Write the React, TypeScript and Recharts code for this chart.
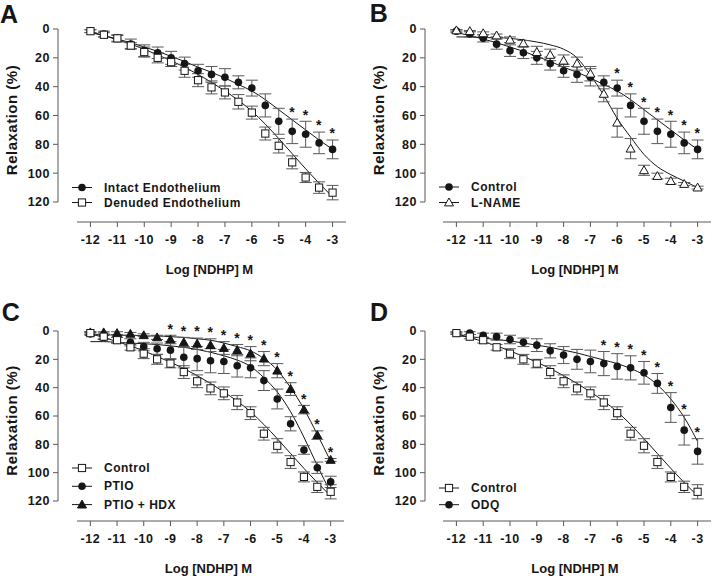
import React from 'react';
import { ComposedChart, Line, Scatter, ErrorBar, XAxis, YAxis, Customized } from 'recharts';

// concentrations (log M) of NDHP
const logConc = [-12, -11.5, -11, -10.5, -10, -9.5, -9, -8.5, -8, -7.5, -7, -6.5, -6, -5.5, -5, -4.5, -4, -3.5, -3];
const xTicks = [-12, -11, -10, -9, -8, -7, -6, -5, -4, -3];
const yTicks = [0, 20, 40, 60, 80, 100, 120];

// intact endothelium / control (A, B)
const intactMean = [1.5, 3.5, 6.5, 10.5, 15, 16.5, 20, 24, 29, 31.5, 33.5, 37, 41, 53, 64, 71, 73, 79, 83.5];
const intactSem = [1, 2, 2.5, 3.5, 4, 4, 4.5, 4.5, 4.5, 5.5, 6, 4.5, 5.5, 8, 9, 8.5, 9, 7.5, 6.5];
const intactFit = [2.5, 4.5, 7, 9.5, 12.5, 15.5, 19, 22.5, 26.5, 30, 34, 38.5, 43, 49, 56, 63, 70, 77, 83.5];

// denuded endothelium / control (A, C, D)
const denudedMean = [1.5, 4, 6.5, 11.5, 16, 20, 23, 29, 35.5, 40.5, 44, 50.5, 58, 72.5, 81, 92.5, 103, 110, 113.5];
const denudedSem = [1, 1.5, 2, 2, 3.5, 3.5, 3, 4.5, 4.5, 4.5, 4.5, 5, 4.5, 4.5, 5, 4.5, 3.5, 4, 5];
const denudedFit = [2, 4.5, 7.5, 10.5, 14, 18, 22, 26.5, 31.5, 37, 43, 49.5, 57, 66, 76, 86.5, 97, 107, 116.5];

// L-NAME (B)
const lnameMean = [1, 1.5, 3, 4.5, 7.5, 10, 16, 18, 22, 24, 31, 45, 65, 83, 98, 102, 105.5, 107.5, 110];
const lnameSem = [0.5, 0.5, 1, 1, 2, 2, 4, 4, 4, 4.5, 5, 5.5, 10, 7, 3.5, 2, 2, 1, 1];
const lnameFit = [5.5, 5.5, 6, 6, 6.5, 7.5, 9, 11, 14, 20, 32, 46, 62, 75, 87, 95.5, 101, 105.5, 110];

// PTIO (C)
const ptioMean = [2, 4.5, 6.5, 8, 11, 12.5, 13.5, 18.5, 19.5, 21, 21.5, 24.5, 26, 35, 48, 65.5, 84, 96.5, 106.5];
const ptioSem = [1, 1.5, 2, 2.5, 3, 4, 6, 7.5, 8.5, 8.5, 8.5, 8, 7, 7, 7, 5, 3, 4, 4];
const ptioFit = [7.5, 7.5, 8, 8.5, 9, 9.5, 10.5, 11.5, 13, 15, 17.5, 20.5, 25, 33, 43, 57, 75, 95, 114];

// PTIO + HDX (C)
const hdxMean = [1, 1, 1.5, 2, 3, 4.5, 6, 8, 9, 10, 12, 13.5, 16, 19.5, 28, 41, 55.5, 73.5, 91];
const hdxSem = [0.5, 0.5, 1, 1, 1, 1.5, 3, 3.5, 4, 4.5, 4.5, 4, 5, 5, 5, 4.5, 3, 3, 1];
const hdxFit = [2.5, 2.5, 3, 3, 3.5, 3.5, 4, 4.5, 5.5, 6.5, 8.5, 11, 14, 19.5, 27.5, 40, 55, 73, 92];

// ODQ (D)
const odqMean = [1.5, 1.5, 3, 4, 6, 8, 10, 14, 17, 20, 21.5, 23, 25, 26, 29.5, 37, 54, 70, 85];
const odqSem = [0.5, 1, 1.5, 2.5, 3, 3, 4.5, 5, 6, 7, 8, 8.5, 9, 8.5, 8, 7, 10.5, 10.5, 9];
const odqFit = [3.5, 4, 5, 6, 7, 8.5, 10, 11.5, 13.5, 15.5, 18, 20.5, 23, 26.5, 31, 38, 48, 61, 78];

// significance marks (* p<0.05)
const starsA = [-4.5, -4, -3.5, -3];
const starsB = [-6, -5.5, -5, -4.5, -4, -3.5, -3];
const starsC = [-9, -8.5, -8, -7.5, -7, -6.5, -6, -5.5, -5, -4.5, -4, -3.5, -3];
const starsD = [-6.5, -6, -5.5, -5, -4.5, -4, -3.5, -3];

const FONT = '"Liberation Sans", Arial, Helvetica, sans-serif';
const INK = '#161616';
const GREY = '#595959';
const W = 357;
const H = 288;
const Y_AXIS_W = 50;
const X_AXIS_H = 40;
const PAD_BOTTOM = 20;

type Marker = 'circle' | 'square' | 'triangle' | 'openTriangle';

interface Series {
  name: string;
  marker: Marker;
  mean: number[];
  sem: number[];
  fit: number[];
}

interface Panel {
  letter: string;
  letterX: number;
  letterY: number;
  left: number;
  top: number;
  margin: { top: number; right: number; left: number; bottom: number };
  padLeft: number;
  series: Series[]; // drawing order
  legendOrder: number[];
  legendY: number;
  legendGap: number;
  stars: number[];
  starOn: number;
}

const intact = (name: string): Series => ({ name, marker: 'circle', mean: intactMean, sem: intactSem, fit: intactFit });
const denuded = (name: string): Series => ({ name, marker: 'square', mean: denudedMean, sem: denudedSem, fit: denudedFit });

const panels: Panel[] = [
  {
    letter: 'A', letterX: 0, letterY: 23, left: 0, top: 0,
    margin: { top: 29, right: 11, left: 8, bottom: 26 }, padLeft: 19,
    series: [intact('Intact Endothelium'), denuded('Denuded Endothelium')],
    legendOrder: [0, 1], legendY: 187.5, legendGap: 15,
    stars: starsA, starOn: 0,
  },
  {
    letter: 'B', letterX: 12.7, letterY: 22, left: W, top: 0,
    margin: { top: 29, right: 3, left: 18, bottom: 26 }, padLeft: 18,
    series: [intact('Control'), { name: 'L-NAME', marker: 'openTriangle', mean: lnameMean, sem: lnameSem, fit: lnameFit }],
    legendOrder: [0, 1], legendY: 187, legendGap: 15.5,
    stars: starsB, starOn: 0,
  },
  {
    letter: 'C', letterX: 1.7, letterY: 33, left: 0, top: H,
    margin: { top: 43, right: 13, left: 8, bottom: 15 }, padLeft: 19,
    series: [
      { name: 'PTIO + HDX', marker: 'triangle', mean: hdxMean, sem: hdxSem, fit: hdxFit },
      { name: 'PTIO', marker: 'circle', mean: ptioMean, sem: ptioSem, fit: ptioFit },
      denuded('Control'),
    ],
    legendOrder: [2, 1, 0], legendY: 180, legendGap: 18.3,
    stars: starsC, starOn: 0,
  },
  {
    letter: 'D', letterX: 13, letterY: 33, left: W, top: H,
    margin: { top: 43, right: 3, left: 18, bottom: 15 }, padLeft: 18,
    series: [{ name: 'ODQ', marker: 'circle', mean: odqMean, sem: odqSem, fit: odqFit }, denuded('Control')],
    legendOrder: [1, 0], legendY: 200, legendGap: 16.7,
    stars: starsD, starOn: 0,
  },
];

const drawMarker = (kind: Marker, cx: number, cy: number) => {
  if (kind === 'circle') return <circle cx={cx} cy={cy} r={3.8} fill={INK} />;
  if (kind === 'square')
    return <rect x={cx - 3.6} y={cy - 3.6} width={7.2} height={7.2} fill="#fff" stroke={INK} strokeWidth={1} />;
  const pts = `${cx},${cy - 4.5} ${cx - 4.5},${cy + 3.4} ${cx + 4.5},${cy + 3.4}`;
  return (
    <polygon
      points={pts}
      fill={kind === 'triangle' ? INK : '#fff'}
      stroke={INK}
      strokeWidth={1}
    />
  );
};

const toPoints = (s: Series) => logConc.map((x, i) => ({ x, y: s.mean[i], err: s.sem[i] }));
const toCurve = (s: Series) => logConc.map((x, i) => ({ x, y: s.fit[i] }));
const toStars = (xs: number[], s: Series) =>
  xs.map((x) => {
    const i = logConc.indexOf(x);
    return { x, y: s.mean[i] - s.sem[i] };
  });

const PanelText = ({ p }: { p: Panel }) => {
  const plotLeft = p.margin.left + Y_AXIS_W;
  const plotRight = W - p.margin.right;
  const plotBottom = H - p.margin.bottom - X_AXIS_H;
  const yLen = plotBottom - PAD_BOTTOM - p.margin.top;
  const lineX = plotLeft + 14;
  const textX = plotLeft + 46;
  return (
    <g fill={INK} fontFamily={FONT} fontWeight="bold">
      <text x={p.letterX} y={p.letterY} fontSize={25} style={{ letterSpacing: 0 }}>
        {p.letter}
      </text>
      <text
        x={(plotLeft + p.padLeft + plotRight) / 2 - 2}
        y={plotBottom + 52}
        textAnchor="middle"
        fontSize={13}
        style={{ letterSpacing: 0 }}
      >
        Log [NDHP] M
      </text>
      <text
        transform={`translate(${plotLeft - 47},${p.margin.top + yLen / 2 + 4.5}) rotate(-90)`}
        textAnchor="middle"
        dominantBaseline="central"
        fontSize={15}
      >
        Relaxation (%)
      </text>
      {p.legendOrder.map((idx, row) => {
        const s = p.series[idx];
        const y = p.legendY + row * p.legendGap;
        return (
          <g key={s.name}>
            <line x1={lineX} x2={lineX + 20} y1={y} y2={y} stroke={INK} strokeWidth={1} />
            {drawMarker(s.marker, lineX + 10, y)}
            <text x={textX} y={y} dominantBaseline="central" fontSize={12}>
              {s.name}
            </text>
          </g>
        );
      })}
    </g>
  );
};

const RelaxationPanel = ({ p }: { p: Panel }) => {
  const plotBottom = H - p.margin.bottom - X_AXIS_H;
  const yLen = plotBottom - PAD_BOTTOM - p.margin.top;
  const tickStyle = { fill: INK, fontSize: 12.5, fontWeight: 'bold' as const };
  return (
    <div style={{ position: 'absolute', left: p.left, top: p.top, width: W, height: H }}>
      <ComposedChart width={W} height={H} margin={p.margin}>
        <XAxis
          type="number"
          dataKey="x"
          domain={[-12.5, -2.5]}
          ticks={xTicks}
          padding={{ left: p.padLeft, right: 0 }}
          height={X_AXIS_H}
          tickSize={5}
          tickMargin={8}
          tick={tickStyle}
          axisLine={{ stroke: GREY, strokeDasharray: `0 ${p.padLeft} 1000` }}
          tickLine={{ stroke: GREY }}
        />
        <YAxis
          type="number"
          dataKey="y"
          domain={[0, 120]}
          ticks={yTicks}
          reversed
          padding={{ top: 0, bottom: PAD_BOTTOM }}
          width={Y_AXIS_W}
          tickSize={5}
          tickMargin={3}
          tick={tickStyle}
          axisLine={{ stroke: GREY, strokeDasharray: `${yLen} 1000` }}
          tickLine={{ stroke: GREY }}
        />
        {p.series.map((s) => (
          <Line
            key={`fit-${s.name}`}
            data={toCurve(s)}
            dataKey="y"
            type="monotone"
            stroke={INK}
            strokeWidth={1}
            dot={false}
            activeDot={false}
            isAnimationActive={false}
          />
        ))}
        {p.series.map((s) => (
          <Scatter
            key={`pts-${s.name}`}
            data={toPoints(s)}
            dataKey="y"
            isAnimationActive={false}
            shape={(props: any) => drawMarker(s.marker, props.cx, props.cy)}
          >
            <ErrorBar dataKey="err" direction="y" width={6} stroke={GREY} strokeWidth={1} />
          </Scatter>
        ))}
        <Scatter
          data={toStars(p.stars, p.series[p.starOn])}
          dataKey="y"
          isAnimationActive={false}
          shape={(props: any) => (
            <text x={props.cx} y={props.cy - 1.7} textAnchor="middle" fontSize={14} fontWeight="bold" fill={INK}>
              *
            </text>
          )}
        />
        <Customized component={<PanelText p={p} />} />
      </ComposedChart>
    </div>
  );
};

export default function App() {
  return (
    <div
      style={{
        position: 'absolute',
        left: 0,
        top: 0,
        width: 714,
        height: 576,
        background: '#fff',
        fontFamily: FONT,
        letterSpacing: '0.5px',
        overflow: 'hidden',
      }}
    >
      {panels.map((p) => (
        <RelaxationPanel key={p.letter} p={p} />
      ))}
    </div>
  );
}
